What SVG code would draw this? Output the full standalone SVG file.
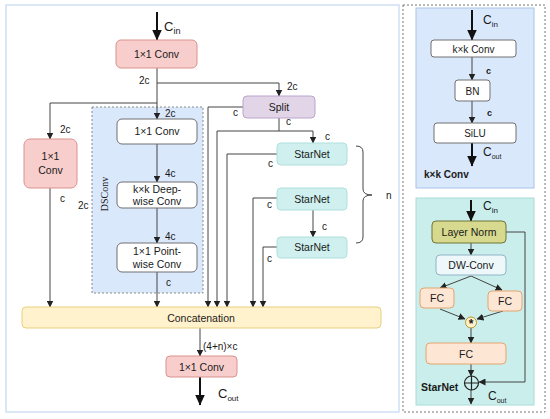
<svg xmlns="http://www.w3.org/2000/svg" width="550" height="419" viewBox="0 0 550 419">
<defs>
<style>
text{font-family:"Liberation Sans",Arial,sans-serif;fill:#1a1a1a}
.lbl{font-size:10.5px;text-anchor:middle}
.sm{font-size:10px}
.b{font-weight:bold}
.pink{fill:#f8cecc;stroke:#d9928e;stroke-width:1}
.white{fill:#ffffff;stroke:#707070;stroke-width:1}
.cyan{fill:#cff0ee;stroke:#aee0dc;stroke-width:1}
.ln{fill:none;stroke:#444;stroke-width:1}
.thick{fill:none;stroke:#111;stroke-width:2}
</style>
<marker id="a" markerUnits="userSpaceOnUse" markerWidth="7" markerHeight="7" refX="6.5" refY="3.5" orient="auto">
<path d="M0,0 L7,3.5 L0,7 z" fill="#222"/>
</marker>
<marker id="A" markerUnits="userSpaceOnUse" markerWidth="11" markerHeight="11" refX="10.5" refY="5" orient="auto">
<path d="M0,0 L11,5 L0,10 z" fill="#111"/>
</marker>
</defs>

<!-- main panel -->
<rect x="6" y="5" width="393" height="407" fill="#ffffff" stroke="#cfe0f3" stroke-width="1.5"/>

<!-- DSConv region -->
<g id="dsconv">
<rect x="92" y="107" width="111" height="186" fill="#dae8fc" stroke="#8a8a8a" stroke-dasharray="2,2"/>
<text transform="translate(108,194) rotate(-90)" style="font-family:'Liberation Serif','Times New Roman',serif;font-size:10px;text-anchor:middle">DSConv</text>
</g>

<!-- connectors -->
<g id="connectors">
<path class="thick" d="M157,12 V40" marker-end="url(#A)"/>
<path class="ln" d="M157,68 V119" marker-end="url(#a)"/>
<path class="ln" d="M157,103 H50 V139" marker-end="url(#a)"/>
<path class="ln" d="M157,83 H279 V96" marker-end="url(#a)"/>
<path class="ln" d="M243,107 H208 V307" marker-end="url(#a)"/>
<path class="ln" d="M279,118 V131 H313 V143" marker-end="url(#a)"/>
<path class="ln" d="M279,131 H217 V307" marker-end="url(#a)"/>
<path class="ln" d="M277,154 H227 V307" marker-end="url(#a)"/>
<path class="ln" d="M277,198 H253 V307" marker-end="url(#a)"/>
<path class="ln" d="M313,210 V237" marker-end="url(#a)"/>
<path class="ln" d="M277,247 H263 V307" marker-end="url(#a)"/>
<path class="ln" d="M50,188 V307" marker-end="url(#a)"/>
<path class="ln" d="M157,144 V182" marker-end="url(#a)"/>
<path class="ln" d="M157,208 V243" marker-end="url(#a)"/>
<path class="ln" d="M157,272 V307" marker-end="url(#a)"/>
<path class="ln" d="M200,328 V356" marker-end="url(#a)"/>
<path class="thick" d="M200,377 V405" marker-end="url(#A)"/>
<path class="ln" d="M356,146 Q363,146 363,152 V189 Q363,195 372,195 Q363,195 363,201 V237 Q363,243 356,243" stroke="#333"/>
</g>

<!-- nodes -->
<g id="conv_top"><rect class="pink" x="116" y="40" width="81" height="28" rx="5"/><text class="lbl" x="156.5" y="58">1×1 Conv</text></g>
<g id="conv_left"><rect class="pink" x="24" y="139" width="53" height="49" rx="6"/><text class="lbl" x="50.5" y="160">1×1</text><text class="lbl" x="50.5" y="174">Conv</text></g>
<g id="ds_conv1"><rect class="white" x="117" y="119" width="80" height="25" rx="5"/><text class="lbl" x="157" y="135">1×1 Conv</text></g>
<g id="ds_dw"><rect class="white" x="117" y="182" width="80" height="26" rx="5"/><text class="lbl" x="157" y="193">k×k Deep-</text><text class="lbl" x="157" y="205">wise Conv</text></g>
<g id="ds_pw"><rect class="white" x="117" y="243" width="80" height="29" rx="5"/><text class="lbl" x="157" y="255">1×1 Point-</text><text class="lbl" x="157" y="268">wise Conv</text></g>
<g id="split"><rect x="243" y="96" width="72" height="22" rx="4" fill="#e1d5e7" stroke="#bca4cc"/><text class="lbl" x="279" y="111">Split</text></g>
<g id="starnet1"><rect class="cyan" x="277" y="143" width="70" height="22" rx="4"/><text class="lbl" x="312" y="158">StarNet</text></g>
<g id="starnet2"><rect class="cyan" x="277" y="188" width="70" height="22" rx="4"/><text class="lbl" x="312" y="203">StarNet</text></g>
<g id="starnet3"><rect class="cyan" x="277" y="237" width="70" height="21" rx="4"/><text class="lbl" x="312" y="251">StarNet</text></g>
<g id="concat"><rect x="22" y="307" width="359" height="21" rx="4" fill="#fff2cc" stroke="#e8cf80"/><text class="lbl" x="201" y="321.5">Concatenation</text></g>
<g id="conv_bottom"><rect class="pink" x="166" y="356" width="71" height="21" rx="4"/><text class="lbl" x="201.5" y="370.5">1×1 Conv</text></g>

<!-- labels main -->
<g id="labels">
<text x="164" y="31" style="font-size:13px">C<tspan style="font-size:9px" dy="3">in</tspan></text>
<text class="sm" x="139" y="84">2c</text>
<text class="sm" x="287" y="90">2c</text>
<text class="sm" x="233" y="116">c</text>
<text class="sm" x="286" y="125">c</text>
<text class="sm" x="325" y="140">c</text>
<text class="sm" x="268" y="167">c</text>
<text class="sm" x="267" y="208">c</text>
<text class="sm" x="322" y="230">c</text>
<text class="sm" x="267" y="262">c</text>
<text class="sm" x="386" y="199">n</text>
<text class="sm" x="60" y="133">2c</text>
<text class="sm" x="60" y="202">c</text>
<text class="sm" x="78" y="209">2c</text>
<text class="sm" x="165" y="117">2c</text>
<text class="sm" x="165" y="177">4c</text>
<text class="sm" x="165" y="240">4c</text>
<text class="sm" x="166" y="286">c</text>
<text class="sm" x="203" y="350">(4+n)×c</text>
<text x="218" y="398" style="font-size:13px">C<tspan style="font-size:8px" dy="3">out</tspan></text>
</g>

<!-- right side -->
<rect x="403" y="5" width="142" height="407" fill="#ffffff" stroke="#777" stroke-dasharray="2,2"/>

<g id="kxk_panel">
<rect x="416" y="8" width="118" height="180" fill="#dae8fc" stroke="#a9c4e8"/>
<path class="thick" d="M472,10 V40" marker-end="url(#A)"/>
<path class="ln" d="M472,57 V80" marker-end="url(#a)"/>
<path class="ln" d="M472,101 V123" marker-end="url(#a)"/>
<path class="thick" d="M472,143 V166" marker-end="url(#A)"/>
<rect class="white" x="431" y="40" width="85" height="17" rx="3"/><text class="lbl" x="473.5" y="52.5" style="font-size:10px">k×k Conv</text>
<rect class="white" x="455" y="80" width="35" height="21" rx="3"/><text class="lbl" x="472.5" y="94.5" style="font-size:10px">BN</text>
<rect class="white" x="434" y="123" width="82" height="20" rx="3"/><text class="lbl" x="475" y="137" style="font-size:10px">SiLU</text>
<text x="483" y="24" style="font-size:12px">C<tspan style="font-size:8px" dy="3">in</tspan></text>
<text x="486" y="74" class="b" style="font-size:9px">c</text>
<text x="487" y="116" class="b" style="font-size:9px">c</text>
<text x="483" y="156" style="font-size:12px">C<tspan style="font-size:7px" dy="3">out</tspan></text>
<text x="424" y="178" class="b" style="font-size:10px">k×k Conv</text>
</g>

<g id="starnet_panel">
<rect x="416" y="198" width="118" height="207" fill="#c9eeeb" stroke="#a8dcd8"/>
<path class="thick" d="M471,200 V221" marker-end="url(#A)"/>
<path class="ln" d="M471,243 V255" marker-end="url(#a)"/>
<path class="ln" d="M506,232 H525 V382 H479" marker-end="url(#a)"/>
<path class="ln" d="M471,276 L440,288" marker-end="url(#a)"/>
<path class="ln" d="M471,276 L502,290" marker-end="url(#a)"/>
<path class="ln" d="M440,309 L465,319" marker-end="url(#a)"/>
<path class="ln" d="M503,311 L477,319" marker-end="url(#a)"/>
<path class="ln" d="M471,328 V343" marker-end="url(#a)"/>
<path class="ln" d="M471,364 V376" marker-end="url(#a)"/>
<path class="ln" d="M471,390 V404" marker-end="url(#a)"/>
<rect x="432" y="221" width="74" height="22" rx="4" fill="#d6d98e" stroke="#6f7537"/><text class="lbl" x="469" y="236">Layer Norm</text>
<rect x="436" y="255" width="70" height="20" rx="4" fill="#eef7fa" stroke="#8fb4c6"/><text class="lbl" x="471" y="269">DW-Conv</text>
<rect x="420" y="288" width="34" height="20" rx="4" fill="#fde6d3" stroke="#e4a46e"/><text class="lbl" x="437" y="302">FC</text>
<rect x="488" y="291" width="34" height="20" rx="4" fill="#fde6d3" stroke="#e4a46e"/><text class="lbl" x="505" y="305">FC</text>
<circle cx="471" cy="322.5" r="5.5" fill="#fff2cc" stroke="#b8962e"/><text x="471" y="328" style="font-size:12px;font-weight:bold;text-anchor:middle">*</text>
<rect x="426" y="343" width="80" height="21" rx="4" fill="#fde6d3" stroke="#e4a46e"/><text class="lbl" x="466" y="357.5">FC</text>
<circle cx="471.5" cy="383" r="7" fill="none" stroke="#222" stroke-width="1.2"/>
<path d="M464.5,383 H478.5 M471.5,376 V390" stroke="#222" stroke-width="1.2"/>
<text x="483" y="210" style="font-size:12px">C<tspan style="font-size:8px" dy="3">in</tspan></text>
<text x="421" y="391" class="b" style="font-size:10.5px">StarNet</text>
<text x="488" y="400" style="font-size:12px">C<tspan style="font-size:7px" dy="3">out</tspan></text>
</g>
</svg>
